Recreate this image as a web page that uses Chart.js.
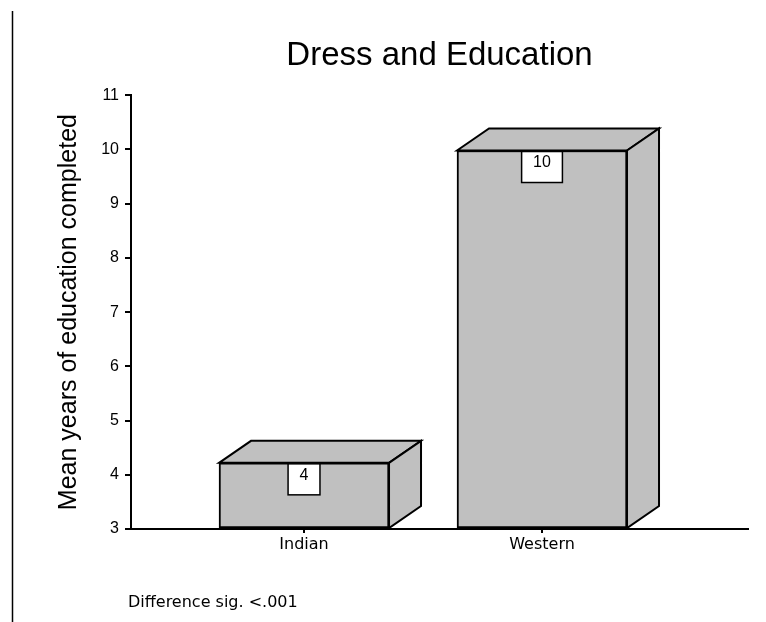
<!DOCTYPE html>
<html>
<head>
<meta charset="utf-8">
<script src="https://cdn.jsdelivr.net/npm/chart.js@4"></script>
<style>
  html, body { margin: 0; padding: 0; background: #fff; }
  #wrap { width: 766px; height: 622px; }
</style>
</head>
<body>
<div id="wrap"><canvas id="chart" width="766" height="622"></canvas></div>
<script>
// data
const categories = ['Indian', 'Western'];
const meanYears = [4.22, 9.98];
const yTicks = [3, 4, 5, 6, 7, 8, 9, 10, 11];

const chartTitle = 'Dress and Education';
const yTitle = 'Mean years of education completed';
const footNote = 'Difference sig. <.001';

// 3d look
const depthX = 32;
const depthY = 22;
const barGray = '#c0c0c0';

const bar3d = {
  id: 'bar3d',
  afterDatasetsDraw(chart) {
    const ctx = chart.ctx;
    const meta = chart.getDatasetMeta(0);
    ctx.save();
    ctx.lineWidth = 2;
    ctx.strokeStyle = '#000';
    ctx.fillStyle = barGray;
    meta.data.forEach((el, i) => {
      const p = el.getProps(['x', 'y', 'width', 'base'], true);
      const l = p.x - p.width / 2, r = p.x + p.width / 2;
      const t = p.y, b = p.base;
      // top face
      ctx.beginPath();
      ctx.moveTo(l, t);
      ctx.lineTo(l + depthX, t - depthY);
      ctx.lineTo(r + depthX, t - depthY);
      ctx.lineTo(r, t);
      ctx.closePath();
      ctx.fill();
      ctx.stroke();
      // side face
      ctx.beginPath();
      ctx.moveTo(r, t);
      ctx.lineTo(r + depthX, t - depthY);
      ctx.lineTo(r + depthX, b - depthY);
      ctx.lineTo(r, b);
      ctx.closePath();
      ctx.fill();
      ctx.stroke();

      // value box
      const txt = String(Math.round(meanYears[i]));
      ctx.font = '16px "Liberation Sans", Arial, sans-serif';
      const w = ctx.measureText(txt).width + 23;
      const h = 31;
      const bx = p.x - w / 2, by = t + 1;
      ctx.fillStyle = '#fff';
      ctx.fillRect(bx, by, w, h);
      ctx.lineWidth = 1.5;
      ctx.strokeRect(bx, by, w, h);
      ctx.fillStyle = '#000';
      ctx.textAlign = 'center';
      ctx.textBaseline = 'middle';
      ctx.fillText(txt, p.x, by + h / 2 - 4);
      ctx.fillStyle = barGray;
      ctx.lineWidth = 2;
    });
    ctx.restore();
  },
  afterDraw(chart) {
    const ctx = chart.ctx;
    ctx.save();
    // frame line on the left
    ctx.strokeStyle = '#000';
    ctx.lineWidth = 1.5;
    ctx.beginPath();
    ctx.moveTo(12.5, 11);
    ctx.lineTo(12.5, 622);
    ctx.stroke();
    // footnote
    ctx.fillStyle = '#000';
    ctx.font = '16px "DejaVu Sans", sans-serif';
    ctx.textAlign = 'left';
    ctx.textBaseline = 'alphabetic';
    ctx.fillText(footNote, 128, 607);
    ctx.restore();
  }
};

const ctx = document.getElementById('chart').getContext('2d');

new Chart(ctx, {
  type: 'bar',
  data: {
    datasets: [{
      data: categories.map((c, i) => ({ x: i + 1, y: meanYears[i] })),
      base: yTicks[0],
      backgroundColor: barGray,
      borderColor: '#000',
      borderWidth: 2,
      borderSkipped: false,
      barThickness: 170
    }]
  },
  options: {
    responsive: false,
    animation: false,
    layout: { padding: { left: 0, right: 18, top: 0, bottom: 0 } },
    scales: {
      x: {
        type: 'linear',
        offset: false,
        min: 0.273,
        max: 2.8655,
        afterBuildTicks: (scale) => {
          scale.ticks = categories.map((c, i) => ({ value: i + 1 }));
        },
        afterFit: (scale) => { scale.height = 93; },
        ticks: {
          color: '#000',
          padding: 2,
          font: { family: '"DejaVu Sans", sans-serif', size: 16 },
          callback: (v) => categories[v - 1] || ''
        },
        grid: {
          display: true,
          offset: false,
          drawOnChartArea: false,
          tickLength: 4,
          color: '#000',
          lineWidth: 2
        },
        border: { display: true, color: '#000', width: 2 }
      },
      y: {
        min: yTicks[0],
        max: yTicks[yTicks.length - 1],
        afterFit: (scale) => { scale.width = 131; },
        ticks: {
          stepSize: 1,
          color: '#000',
          padding: 6,
          font: { family: '"Liberation Sans", Arial, sans-serif', size: 16 }
        },
        grid: {
          display: true,
          drawOnChartArea: false,
          tickLength: 6,
          color: '#000',
          lineWidth: 2
        },
        border: { display: true, color: '#000', width: 2 },
        title: {
          display: true,
          text: yTitle,
          color: '#000',
          padding: { top: 54, bottom: 0 },
          font: { family: '"Liberation Sans", Arial, sans-serif', size: 25 }
        }
      }
    },
    plugins: {
      legend: { display: false },
      tooltip: { enabled: false },
      title: {
        display: true,
        text: chartTitle,
        fullSize: false,
        color: '#000',
        padding: { top: 36, bottom: 19.6 },
        font: { family: '"Liberation Sans", Arial, sans-serif', size: 33, weight: 'normal' }
      }
    }
  },
  plugins: [bar3d]
});
</script>
</body>
</html>
